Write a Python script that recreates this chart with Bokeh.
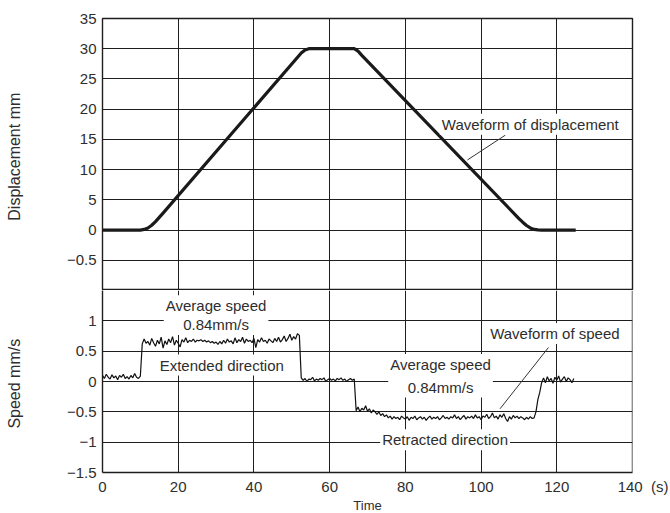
from bokeh.plotting import figure
from bokeh.layouts import column
from bokeh.models import FixedTicker, Label, Range1d, Grid, Span
from bokeh.embed import file_html
from bokeh.resources import INLINE

# ---------------- data ----------------
# displacement waveform: time (s) / displacement (mm)
disp_time = [0, 10, 11, 12, 13, 14, 15, 16, 52.5, 53.5, 54.5, 66.5, 67.5, 68.5,
             110, 111, 112, 113, 114, 115, 116, 125]
disp_mm = [0, 0, 0.1, 0.35, 0.8, 1.4, 2.1, 2.8, 29.3, 29.8, 30, 30, 29.6, 28.9,
           1.9, 1.3, 0.75, 0.35, 0.1, 0.02, 0, 0]

# speed waveform (mm/s), sampled every 0.5 s, in segments
sample_step = 0.5
speed_idle_start = [0.10, 0.05, 0.12, 0.07, 0.04, 0.11, 0.06, 0.09, 0.03, 0.10, 0.07,
                    0.12, 0.05, 0.08, 0.04, 0.10, 0.06, 0.13, 0.07, 0.05, 0.09]
speed_extend = [0.62, 0.70, 0.63, 0.66, 0.60, 0.71, 0.64, 0.58, 0.68, 0.62,
                0.73, 0.55, 0.67, 0.61, 0.70, 0.64, 0.74, 0.60, 0.68, 0.63,
                0.57, 0.69, 0.65, 0.72, 0.64, 0.68, 0.66, 0.70, 0.65, 0.68,
                0.67, 0.69, 0.66, 0.68, 0.65, 0.67, 0.64, 0.66, 0.63, 0.65,
                0.61, 0.66, 0.62, 0.68, 0.63, 0.70, 0.65, 0.67, 0.62, 0.72,
                0.64, 0.69, 0.66, 0.73, 0.63, 0.70, 0.66, 0.68, 0.64, 0.71,
                0.56, 0.69, 0.65, 0.72, 0.66, 0.68, 0.63, 0.70, 0.67, 0.64,
                0.71, 0.66, 0.73, 0.65, 0.69, 0.75, 0.66, 0.71, 0.78, 0.68,
                0.74, 0.70, 0.79, 0.76]
speed_dwell = [0.06, 0.02, 0.05, 0.00, 0.04, 0.03, 0.07, 0.01, 0.04, 0.02, 0.05, 0.03,
               0.06, 0.00, 0.03, 0.05, 0.02, 0.04, 0.01, 0.05, 0.03, 0.06, 0.02, 0.04,
               0.00, 0.03, 0.05, 0.02, 0.04]
speed_retract = [-0.48, -0.42, -0.50, -0.44, -0.47, -0.40, -0.49, -0.45,
                 -0.52, -0.47, -0.50, -0.54, -0.50, -0.56, -0.53, -0.58,
                 -0.55, -0.60, -0.57, -0.62, -0.58, -0.61, -0.59, -0.63, -0.57, -0.60,
                 -0.62, -0.58, -0.64, -0.59, -0.61, -0.57, -0.63, -0.60, -0.58, -0.62,
                 -0.59, -0.64, -0.60, -0.57, -0.62, -0.59, -0.61, -0.58, -0.63, -0.60,
                 -0.56, -0.61, -0.59, -0.62, -0.58, -0.60, -0.55, -0.61, -0.58, -0.63,
                 -0.59, -0.56, -0.62, -0.58, -0.60, -0.57, -0.61, -0.55, -0.60, -0.58,
                 -0.63, -0.57, -0.59, -0.54, -0.61, -0.58, -0.52, -0.60, -0.57, -0.62,
                 -0.55, -0.59, -0.53, -0.61, -0.66, -0.58, -0.62, -0.56, -0.60, -0.57,
                 -0.61, -0.58, -0.60, -0.63, -0.59, -0.62, -0.58, -0.61, -0.60]
speed_return = [-0.50, -0.30, -0.18, -0.02]
speed_idle_end = [0.06, -0.02, 0.08, 0.01, 0.05, -0.03, 0.07, 0.02, 0.09, -0.01,
                  0.04, 0.08, 0.00, 0.06, 0.03, -0.02, 0.05]
segment_start = [0.0, 10.5, 52.5, 67.0, 114.5, 116.5]
segments = [speed_idle_start, speed_extend, speed_dwell, speed_retract,
            speed_return, speed_idle_end]

speed_time, speed_mms = [], []
for t0, seg in zip(segment_start, segments):
    for i, v in enumerate(seg):
        speed_time.append(t0 + sample_step * i)
        speed_mms.append(v)

time_ticks = [0, 20, 40, 60, 80, 100, 120, 140]
disp_ticks = [-5, 0, 5, 10, 15, 20, 25, 30, 35]
speed_ticks = [-1.5, -1, -0.5, 0, 0.5, 1]

# ---------------- style ----------------
FONT = "Liberation Sans"
TXT = "#2e2e2e"
GRID = "#1e1e1e"
FS = "15px"
NB = "\u00a0"


def style(p):
    p.background_fill_color = "white"
    p.border_fill_color = "white"
    for ax in p.axis:
        ax.axis_line_color = None
        ax.major_tick_line_color = None
        ax.minor_tick_line_color = None
        ax.major_tick_out = 0
        ax.major_tick_in = 0
        ax.major_label_text_font = FONT
        ax.major_label_text_font_size = FS
        ax.major_label_text_color = TXT
        ax.axis_label_text_font = FONT
        ax.axis_label_text_font_size = "16px"
        ax.axis_label_text_font_style = "normal"
        ax.axis_label_text_color = TXT


def note(p, x, y, text, lh=1.2, bg=True):
    lab = Label(x=x, y=y, text=text, text_align="center", text_baseline="middle",
                text_font=FONT, text_font_size=FS, text_color=TXT,
                text_line_height=lh,
                background_fill_color="white" if bg else None, padding=2)
    p.add_layout(lab)


LEFT = 102
RIGHT = 36

# ---------------- top: displacement ----------------
p1 = figure(frame_width=530, frame_height=272, x_range=Range1d(0, 140),
            y_range=Range1d(-10, 35), output_backend="svg", toolbar_location=None,
            min_border_left=LEFT, min_border_right=RIGHT, min_border_top=18,
            min_border_bottom=0, x_axis_location=None)
p1.yaxis.ticker = FixedTicker(ticks=disp_ticks)
p1.yaxis.major_label_overrides = {-5: "\u22120.5"}
p1.yaxis.axis_label = "Displacement  mm"
p1.yaxis.major_label_standoff = 6
p1.yaxis.axis_label_standoff = 41
p1.xgrid.visible = False
p1.ygrid.ticker = FixedTicker(ticks=disp_ticks)
p1.ygrid.grid_line_color = GRID
p1.ygrid.grid_line_width = 1
p1.add_layout(Grid(dimension=0, ticker=FixedTicker(ticks=time_ticks),
                   grid_line_color=GRID, grid_line_width=1))
style(p1)
p1.outline_line_color = GRID
p1.outline_line_width = 1.4

p1.line(disp_time, disp_mm, line_color="#1a1a1a", line_width=3.2, line_join="round")
p1.line([96.4, 106.4], [11.6, 15.7], line_color="#333333", line_width=1)
note(p1, 113, 17.5, "Waveform of displacement")

# ---------------- bottom: speed ----------------
p2 = figure(frame_width=530, frame_height=182, x_range=Range1d(0, 140),
            y_range=Range1d(-1.5, 1.5), output_backend="svg", toolbar_location=None,
            min_border_left=LEFT, min_border_right=RIGHT, min_border_top=0,
            min_border_bottom=40)
p2.xaxis.ticker = FixedTicker(ticks=time_ticks)
p2.xaxis.major_label_overrides = {140: NB * 6 + "140" + NB * 2 + "(s)"}
p2.yaxis.ticker = FixedTicker(ticks=speed_ticks)
p2.yaxis.major_label_overrides = {-1.5: "\u22121.5", -1: "\u22121", -0.5: "\u22120.5",
                                  0: "0", 0.5: "0.5", 1: "1"}
p2.yaxis.axis_label = "Speed  mm/s"
p2.yaxis.major_label_standoff = 6
p2.yaxis.axis_label_standoff = 41
p2.xgrid.ticker = FixedTicker(ticks=time_ticks)
p2.ygrid.ticker = FixedTicker(ticks=speed_ticks)
for g in (p2.xgrid, p2.ygrid):
    g.grid_line_color = GRID
    g.grid_line_width = 1
style(p2)
p2.xaxis.axis_label = "Time"
p2.xaxis.axis_label_text_font_size = "13px"
p2.xaxis.axis_label_standoff = 0
p2.xaxis.major_label_standoff = 5
# border of the lower panel: its left/bottom axis lines and a span on the right;
# the top edge is the upper panel's outline
p2.outline_line_color = None
for ax in p2.axis:
    ax.axis_line_color = GRID
    ax.axis_line_width = 1.4
p2.add_layout(Span(location=140, dimension="height", line_color=GRID, line_width=1.4))

p2.line(speed_time, speed_mms, line_color="#111111", line_width=1.2)
p2.line([105, 117.8], [-0.45, 0.56], line_color="#333333", line_width=1)
note(p2, 30, 1.095, "Average speed\n0.84mm/s", lh=1.1)
note(p2, 31.5, 0.27, "Extended direction")
note(p2, 89.3, 0.095, "Average speed\n0.84mm/s", lh=1.33)
note(p2, 90.5, -0.96, "Retracted direction")
note(p2, 119.5, 0.79, "Waveform of speed")

layout = column(p1, p2, spacing=0)
open("out.html", "w").write(file_html(layout, INLINE))
